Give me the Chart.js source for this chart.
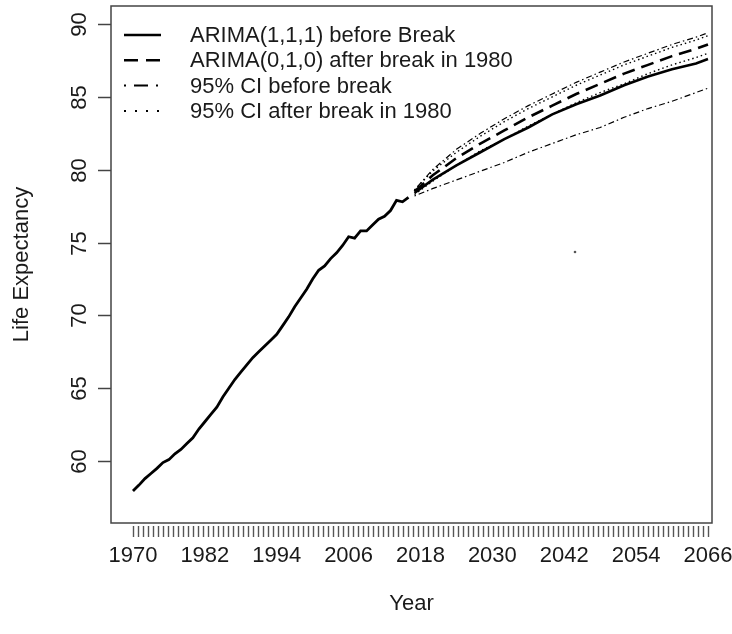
<!DOCTYPE html>
<html>
<head>
<meta charset="utf-8">
<script src="https://cdn.jsdelivr.net/npm/chart.js@4.4.1/dist/chart.umd.min.js"></script>
<style>
  html, body { margin: 0; padding: 0; background: #fff; }
  #wrap { width: 732px; height: 634px; }
</style>
</head>
<body>
<div id="wrap"><canvas id="lifeChart" width="732" height="634"></canvas></div>
<script>
// observed series
const historyYears = [1970, 1971, 1972, 1973, 1974, 1975, 1976, 1977, 1978, 1979,
  1980, 1981, 1982, 1983, 1984, 1985, 1986, 1987, 1988, 1989,
  1990, 1991, 1992, 1993, 1994, 1995, 1996, 1997, 1998, 1999,
  2000, 2001, 2002, 2003, 2004, 2005, 2006, 2007, 2008, 2009,
  2010, 2011, 2012, 2013, 2014, 2015, 2016];
const historyValues = [57.95, 58.35, 58.8, 59.15, 59.5, 59.9, 60.1, 60.5, 60.8, 61.2,
  61.6, 62.2, 62.7, 63.2, 63.7, 64.4, 65.0, 65.6, 66.1, 66.6,
  67.1, 67.5, 67.9, 68.3, 68.7, 69.3, 69.9, 70.6, 71.2, 71.8,
  72.5, 73.1, 73.4, 73.9, 74.3, 74.8, 75.4, 75.3, 75.8, 75.8,
  76.2, 76.6, 76.8, 77.2, 77.9, 77.8, 78.1];

// forecasts
const forecastYears = [2017, 2020, 2024, 2028, 2032, 2036, 2040, 2044, 2048, 2052, 2056, 2060, 2064, 2066];
const arima111 = [78.4, 79.3, 80.3, 81.2, 82.1, 82.9, 83.8, 84.5, 85.1, 85.8, 86.4, 86.9, 87.3, 87.6];
const arima010 = [78.5, 79.6, 80.8, 81.8, 82.7, 83.6, 84.4, 85.2, 85.9, 86.6, 87.2, 87.8, 88.3, 88.6];
const ciBeforeUpper = [78.6, 80.0, 81.4, 82.5, 83.5, 84.4, 85.2, 86.0, 86.7, 87.4, 88.0, 88.6, 89.1, 89.4];
const ciBeforeLower = [78.2, 78.7, 79.3, 79.9, 80.5, 81.2, 81.8, 82.4, 82.9, 83.6, 84.2, 84.7, 85.3, 85.6];
const ciAfterUpper = [78.6, 79.9, 81.2, 82.3, 83.3, 84.2, 85.0, 85.8, 86.5, 87.2, 87.8, 88.4, 88.9, 89.2];
const ciAfterLower = [78.3, 79.2, 80.3, 81.3, 82.1, 83.0, 83.8, 84.6, 85.3, 85.9, 86.6, 87.2, 87.7, 88.0];

// the lone stray point in the picture
const strayPoint = [{ x: 2043.8, y: 74.35 }];

const xTickLabels = [1970, 1982, 1994, 2006, 2018, 2030, 2042, 2054, 2066];
const yTickLabels = [60, 65, 70, 75, 80, 85, 90];
const xMinorTickCount = 116;

const legendNames = [
  'ARIMA(1,1,1) before Break',
  'ARIMA(0,1,0) after break in 1980',
  '95% CI before break',
  '95% CI after break in 1980'
];

const FONT = '22px "Liberation Sans", Arial, sans-serif';
const INK = '#1a1a1a';

const toPoints = (xs, ys) => xs.map((x, i) => ({ x: x, y: ys[i] }));

const styles = {
  solid: { borderWidth: 2.6, borderDash: [] },
  dashed: { borderWidth: 2.6, borderDash: [13, 7] },
  dotdash: { borderWidth: 1.2, borderDash: [1.5, 3, 6, 3] },
  dotted: { borderWidth: 1.4, borderDash: [1.5, 3] }
};

function lineSet(label, pts, style) {
  return {
    label: label,
    data: pts,
    borderColor: '#000',
    borderWidth: style.borderWidth,
    borderDash: style.borderDash,
    pointRadius: 0,
    tension: 0,
    fill: false
  };
}

const datasets = [
  lineSet('history', toPoints(historyYears, historyValues), { borderWidth: 2.8, borderDash: [] }),
  lineSet(legendNames[2], toPoints(forecastYears, ciBeforeUpper), styles.dotdash),
  lineSet(legendNames[2] + ' lower', toPoints(forecastYears, ciBeforeLower), styles.dotdash),
  lineSet(legendNames[3], toPoints(forecastYears, ciAfterUpper), styles.dotted),
  lineSet(legendNames[3] + ' lower', toPoints(forecastYears, ciAfterLower), styles.dotted),
  lineSet(legendNames[1], toPoints(forecastYears, arima010), styles.dashed),
  lineSet(legendNames[0], toPoints(forecastYears, arima111), styles.solid),
  {
    label: 'stray',
    data: strayPoint,
    showLine: false,
    pointRadius: 1.3,
    pointBackgroundColor: '#555',
    pointBorderWidth: 0
  }
];

// R-style frame, ticks and labels, placed through the chart scales
const rAxes = {
  id: 'rAxes',
  afterDraw(chart) {
    const { ctx, chartArea: a, scales } = chart;
    const xs = scales.x, ys = scales.y;
    ctx.save();
    ctx.strokeStyle = '#444';
    ctx.lineWidth = 1.5;
    ctx.strokeRect(a.left, a.top, a.right - a.left, a.bottom - a.top);

    // x minor ticks
    ctx.lineWidth = 1.4;
    ctx.strokeStyle = '#555';
    const first = xTickLabels[0], last = xTickLabels[xTickLabels.length - 1];
    for (let i = 0; i < xMinorTickCount; i++) {
      const v = first + i * (last - first) / (xMinorTickCount - 1);
      const px = Math.round(xs.getPixelForValue(v)) + 0.5;
      ctx.beginPath();
      ctx.moveTo(px, a.bottom + 3);
      ctx.lineTo(px, a.bottom + 14);
      ctx.stroke();
    }

    ctx.fillStyle = INK;
    ctx.font = FONT;
    ctx.textAlign = 'center';
    ctx.textBaseline = 'middle';
    xTickLabels.forEach(v => {
      ctx.fillText(String(v), xs.getPixelForValue(v), a.bottom + 33);
    });

    // y ticks with rotated labels
    ctx.lineWidth = 1.5;
    ctx.strokeStyle = '#444';
    yTickLabels.forEach(v => {
      const py = Math.round(ys.getPixelForValue(v)) + 0.5;
      ctx.beginPath();
      ctx.moveTo(a.left - 13, py);
      ctx.lineTo(a.left, py);
      ctx.stroke();
      ctx.save();
      ctx.translate(a.left - 31, py);
      ctx.rotate(-Math.PI / 2);
      ctx.fillText(String(v), 0, 0);
      ctx.restore();
    });

    // axis titles
    ctx.fillText('Year', (a.left + a.right) / 2, a.bottom + 81);
    ctx.save();
    ctx.translate(22, (a.top + a.bottom) / 2);
    ctx.rotate(-Math.PI / 2);
    ctx.fillText('Life Expectancy', 0, 0);
    ctx.restore();
    ctx.restore();
  }
};

// legend in the top-left corner of the plot, no frame
const rLegend = {
  id: 'rLegend',
  afterDraw(chart) {
    const { ctx, chartArea: a } = chart;
    const samples = [
      { width: 2.6, dash: [] },
      { width: 2.6, dash: [14, 8] },
      { width: 2, dash: [2, 8, 14, 8] },
      { width: 2, dash: [2, 9] }
    ];
    ctx.save();
    ctx.font = FONT;
    ctx.fillStyle = INK;
    ctx.textAlign = 'left';
    ctx.textBaseline = 'middle';
    legendNames.forEach((name, i) => {
      const y = a.top + 29 + i * 25.3;
      ctx.strokeStyle = '#000';
      ctx.lineWidth = samples[i].width;
      ctx.setLineDash(samples[i].dash);
      ctx.beginPath();
      ctx.moveTo(a.left + 13, y);
      ctx.lineTo(a.left + 50, y);
      ctx.stroke();
      ctx.fillText(name, a.left + 79, y + 1);
    });
    ctx.restore();
  }
};

new Chart(document.getElementById('lifeChart'), {
  type: 'line',
  data: { datasets: datasets },
  options: {
    responsive: false,
    animation: false,
    layout: { padding: { left: 111, top: 6, right: 20, bottom: 111 } },
    scales: {
      x: { type: 'linear', display: false, min: 1966.33, max: 2066.67 },
      y: { type: 'linear', display: false, min: 55.75, max: 91.24 }
    },
    plugins: {
      legend: { display: false },
      tooltip: { enabled: false }
    }
  },
  plugins: [rAxes, rLegend]
});
</script>
</body>
</html>
